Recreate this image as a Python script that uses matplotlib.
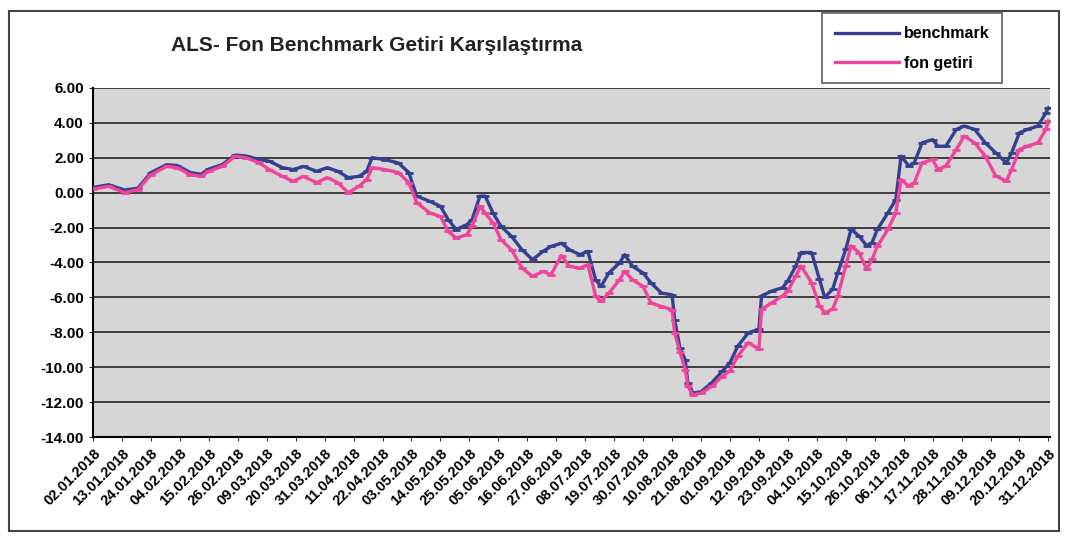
import datetime as dt
from matplotlib import pyplot as plt
from matplotlib.patches import Rectangle

plt.rcParams["font.family"] = ["Liberation Sans", "DejaVu Sans"]

DATES = [
"02.01", "08.01", "14.01", "19.01", "24.01", "30.01", "03.02", "08.02", "12.02", "15.02",
"20.02", "25.02", "01.03", "06.03", "10.03", "15.03", "19.03", "23.03", "28.03", "01.04",
"05.04", "09.04", "13.04", "16.04", "18.04", "23.04", "28.04", "02.05", "05.05", "10.05",
"14.05", "17.05", "20.05", "24.05", "26.05", "29.05", "31.05", "03.06", "06.06", "10.06",
"14.06", "18.06", "22.06", "25.06", "29.06", "02.07", "06.07", "09.07", "12.07", "14.07",
"17.07", "21.07", "23.07", "26.07", "30.07", "02.08", "06.08", "10.08", "11.08", "13.08",
"15.08", "16.08", "18.08", "21.08", "25.08", "29.08", "01.09", "04.09", "08.09", "12.09",
"13.09", "17.09", "21.09", "23.09", "26.09", "28.09", "02.10", "05.10", "07.10", "10.10",
"12.10", "15.10", "17.10", "20.10", "23.10", "25.10", "27.10", "31.10", "03.11", "05.11",
"08.11", "10.11", "13.11", "17.11", "19.11", "22.11", "26.11", "29.11", "03.12", "07.12",
"11.12", "15.12", "17.12", "20.12", "23.12", "27.12", "30.12", "31.12",
]

BENCHMARK = [
0.30, 0.45, 0.15, 0.25, 1.15, 1.60, 1.55, 1.15, 1.05, 1.35,
1.60, 2.15, 2.10, 1.90, 1.80, 1.43, 1.32, 1.50, 1.22, 1.43,
1.22, 0.86, 0.93, 1.22, 2.00, 1.89, 1.70, 1.15, -0.20, -0.50,
-0.78, -1.55, -2.12, -1.83, -1.55, -0.20, -0.20, -1.17, -1.93, -2.50,
-3.27, -3.84, -3.36, -3.08, -2.90, -3.27, -3.55, -3.36, -5.00, -5.37,
-4.60, -4.03, -3.55, -4.22, -4.60, -5.17, -5.75, -5.85, -7.28, -8.90,
-9.57, -10.90, -11.48, -11.40, -10.90, -10.24, -9.74, -8.78, -8.02, -7.83,
-5.91, -5.63, -5.44, -5.05, -4.20, -3.43, -3.43, -4.96, -6.00, -5.53,
-4.58, -3.24, -2.10, -2.48, -3.05, -2.86, -2.11, -1.16, -0.40, 2.09,
1.52, 1.70, 2.85, 3.04, 2.66, 2.66, 3.62, 3.81, 3.62, 2.85,
2.28, 1.70, 2.28, 3.43, 3.62, 3.81, 4.57, 4.85,
]

FON_GETIRI = [
0.20, 0.36, 0.00, 0.17, 1.03, 1.50, 1.43, 1.03, 0.93, 1.22,
1.50, 2.08, 2.00, 1.72, 1.32, 0.93, 0.65, 0.93, 0.57, 0.86,
0.57, 0.00, 0.36, 0.75, 1.43, 1.32, 1.15, 0.57, -0.57, -1.17,
-1.36, -2.22, -2.60, -2.41, -1.93, -0.78, -1.17, -1.74, -2.69, -3.27,
-4.32, -4.80, -4.51, -4.70, -3.60, -4.22, -4.32, -4.13, -5.94, -6.23,
-5.75, -5.00, -4.51, -5.00, -5.37, -6.32, -6.52, -6.70, -8.04, -9.10,
-10.14, -11.10, -11.58, -11.48, -11.10, -10.53, -10.20, -9.35, -8.59, -8.97,
-6.68, -6.30, -5.91, -5.63, -4.77, -4.20, -5.15, -6.49, -6.87, -6.68,
-5.91, -4.20, -3.05, -3.43, -4.39, -3.82, -3.07, -2.11, -1.16, 0.75,
0.37, 0.56, 1.70, 1.90, 1.32, 1.52, 2.47, 3.24, 2.85, 2.09,
0.95, 0.66, 1.32, 2.47, 2.66, 2.85, 3.62, 4.10,
]

YTICKS = [6, 4, 2, 0, -2, -4, -6, -8, -10, -12, -14]

x = [dt.datetime.strptime(d + ".2018", "%d.%m.%Y") for d in DATES]
start = dt.datetime(2018, 1, 2)
xticks = [start + dt.timedelta(days=11 * i) for i in range(34)]

fig = plt.figure(figsize=(10.69, 5.39), dpi=100)
ax = fig.add_axes([0.087, 0.189, 0.895, 0.648])
ax.set_facecolor("#d6d6d6")

ax.plot(x, BENCHMARK, color="#34408f", lw=2.4, marker="_", ms=6, mew=2, label="benchmark", zorder=3)
ax.plot(x, FON_GETIRI, color="#f0449c", lw=2.4, marker="_", ms=6, mew=2, label="fon getiri", zorder=4)

ax.set_ylim(-14, 6)
ax.set_yticks(YTICKS)
ax.set_yticklabels(["%.2f" % v for v in YTICKS], fontsize=11, fontweight="bold")
ax.yaxis.grid(True, color="#222222", lw=1.2)
ax.set_axisbelow(True)

ax.set_xlim(start, dt.datetime(2018, 12, 31, 12))
ax.set_xticks(xticks)
ax.set_xticklabels([d.strftime("%d.%m.%Y") for d in xticks], rotation=45, ha="right",
                   rotation_mode="anchor", fontsize=10.5, fontweight="bold")
ax.tick_params(axis="both", length=3, color="#333333")

for side in ["top", "right"]:
    ax.spines[side].set_visible(False)
ax.spines["left"].set_linewidth(1.5)
ax.spines["bottom"].set_linewidth(1.5)

fig.text(0.16, 0.915, "ALS- Fon Benchmark Getiri Karşılaştırma", fontsize=15,
         fontweight="bold", color="#222222", va="center")

leg = fig.legend(loc="upper left", bbox_to_anchor=(0.769, 0.975), frameon=True,
                 fancybox=False, edgecolor="#333333", fontsize=11.5, handlelength=4,
                 labelspacing=0.9, borderpad=0.8, handletextpad=0.3, borderaxespad=0)
leg.get_frame().set_linewidth(1.2)
for t in leg.get_texts():
    t.set_fontweight("bold")

fig.patches.append(Rectangle((0.008, 0.015), 0.983, 0.965, transform=fig.transFigure,
                             fill=False, edgecolor="#444444", lw=1.5))

fig.savefig("out.png", dpi=100)
